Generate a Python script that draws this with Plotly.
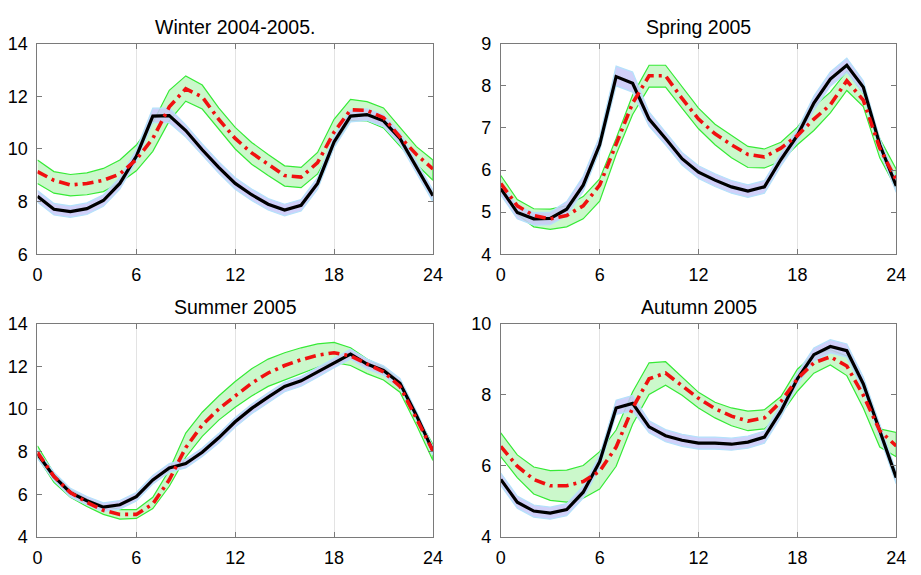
import plotly.graph_objects as go
from plotly.subplots import make_subplots

hours = list(range(25))

titles = ["Winter 2004-2005.", "Spring 2005", "Summer 2005", "Autumn 2005"]

# ---- Winter ----
winter_actual = [8.2, 7.71, 7.62, 7.73, 8.04, 8.69, 9.72, 11.25, 11.27, 10.7, 9.97, 9.3, 8.69, 8.26, 7.9, 7.68, 7.86, 8.69, 10.27, 11.25, 11.31, 11.07, 10.4, 9.3, 8.22]
winter_act_hi = [8.42, 7.93, 7.84, 7.95, 8.26, 8.91, 9.97, 11.55, 11.55, 10.92, 10.19, 9.52, 8.91, 8.48, 8.12, 7.9, 8.08, 8.91, 10.49, 11.47, 11.53, 11.29, 10.62, 9.52, 8.44]
winter_act_lo = [7.98, 7.49, 7.40, 7.51, 7.82, 8.47, 9.53, 11.0, 11.0, 10.45, 9.75, 9.08, 8.47, 8.04, 7.68, 7.46, 7.64, 8.47, 10.05, 11.03, 11.09, 10.85, 10.18, 9.08, 8.0]
winter_fc = [9.14, 8.81, 8.63, 8.69, 8.81, 9.05, 9.6, 10.4, 11.6, 12.29, 11.98, 11.13, 10.4, 9.85, 9.42, 8.99, 8.93, 9.48, 10.64, 11.49, 11.47, 11.19, 10.46, 9.79, 9.24]
winter_fc_hi = [9.58, 9.14, 9.03, 9.09, 9.26, 9.58, 10.15, 11.0, 12.23, 12.78, 12.43, 11.56, 10.82, 10.25, 9.79, 9.36, 9.3, 9.87, 11.13, 11.89, 11.8, 11.56, 10.82, 10.09, 9.58]
winter_fc_lo = [8.69, 8.32, 8.22, 8.26, 8.38, 8.72, 9.17, 9.91, 11.07, 11.82, 11.52, 10.74, 10.0, 9.42, 8.99, 8.59, 8.53, 9.05, 10.15, 11.09, 11.07, 10.8, 10.09, 9.42, 8.81]

# ---- Spring ----
spring_actual = [5.56, 4.99, 4.84, 4.85, 5.07, 5.64, 6.6, 8.22, 8.06, 7.21, 6.75, 6.27, 5.95, 5.76, 5.6, 5.5, 5.6, 6.25, 6.82, 7.59, 8.16, 8.49, 7.97, 6.6, 5.62]
spring_act_hi = [5.71, 5.14, 4.99, 5.0, 5.25, 5.85, 6.8, 8.47, 8.33, 7.38, 6.9, 6.42, 6.1, 5.91, 5.75, 5.65, 5.75, 6.4, 6.97, 7.76, 8.33, 8.66, 8.12, 6.75, 5.77]
spring_act_lo = [5.41, 4.84, 4.69, 4.7, 4.92, 5.49, 6.45, 8.0, 7.85, 7.04, 6.6, 6.12, 5.8, 5.61, 5.45, 5.35, 5.45, 6.1, 6.67, 7.42, 7.99, 8.32, 7.82, 6.45, 5.47]
spring_fc = [5.68, 5.15, 4.92, 4.84, 4.92, 5.15, 5.64, 6.6, 7.59, 8.24, 8.24, 7.7, 7.21, 6.86, 6.6, 6.37, 6.31, 6.52, 6.82, 7.21, 7.55, 8.12, 7.66, 6.52, 5.76]
spring_fc_hi = [5.87, 5.3, 5.08, 5.07, 5.15, 5.37, 5.79, 6.75, 7.78, 8.49, 8.49, 7.97, 7.47, 7.09, 6.82, 6.56, 6.5, 6.66, 7.02, 7.51, 7.85, 8.35, 7.82, 6.75, 6.02]
spring_fc_lo = [5.56, 4.95, 4.65, 4.59, 4.65, 4.84, 5.26, 6.37, 7.32, 7.97, 7.97, 7.47, 6.98, 6.6, 6.29, 6.06, 6.05, 6.21, 6.6, 6.94, 7.36, 7.89, 7.51, 6.29, 5.56]

# ---- Summer ----
summer_actual = [7.89, 6.84, 6.08, 5.7, 5.4, 5.51, 5.89, 6.68, 7.24, 7.44, 7.97, 8.65, 9.4, 10.03, 10.56, 11.06, 11.32, 11.74, 12.19, 12.57, 12.11, 11.81, 11.21, 9.7, 8.04]
summer_act_hi = [8.09, 7.04, 6.28, 5.9, 5.6, 5.71, 6.09, 6.88, 7.44, 7.64, 8.17, 8.85, 9.6, 10.23, 10.76, 11.26, 11.52, 11.94, 12.39, 12.8, 12.34, 12.03, 11.43, 9.9, 8.24]
summer_act_lo = [7.69, 6.64, 5.88, 5.5, 5.2, 5.31, 5.69, 6.48, 7.04, 7.24, 7.77, 8.4, 9.15, 9.78, 10.31, 10.81, 11.07, 11.49, 11.94, 12.35, 11.88, 11.58, 10.99, 9.5, 7.84]
summer_fc = [7.97, 6.84, 6.08, 5.63, 5.25, 5.06, 5.06, 5.55, 6.68, 8.19, 9.25, 10.0, 10.61, 11.21, 11.69, 12.04, 12.31, 12.52, 12.64, 12.49, 12.11, 11.74, 11.06, 9.55, 8.04]
summer_fc_hi = [8.27, 6.99, 6.2, 5.78, 5.48, 5.28, 5.28, 5.86, 7.14, 8.87, 9.85, 10.61, 11.29, 11.89, 12.34, 12.64, 12.87, 13.05, 13.12, 12.87, 12.34, 11.96, 11.29, 9.7, 8.34]
summer_fc_lo = [7.74, 6.56, 5.86, 5.43, 5.06, 4.84, 4.87, 5.33, 6.38, 7.74, 8.72, 9.48, 10.08, 10.61, 11.06, 11.36, 11.66, 11.96, 12.19, 12.04, 11.66, 11.36, 10.79, 9.25, 7.59]

# ---- Autumn ----
autumn_actual = [5.62, 4.98, 4.73, 4.67, 4.77, 5.26, 6.12, 7.63, 7.76, 7.1, 6.85, 6.72, 6.64, 6.64, 6.61, 6.67, 6.81, 7.54, 8.45, 9.13, 9.36, 9.24, 8.31, 6.99, 5.67]
autumn_act_hi = [5.8, 5.15, 4.9, 4.84, 4.94, 5.43, 6.3, 7.85, 7.98, 7.27, 7.02, 6.89, 6.81, 6.81, 6.78, 6.84, 6.98, 7.71, 8.62, 9.32, 9.55, 9.43, 8.5, 7.16, 5.84]
autumn_act_lo = [5.45, 4.81, 4.56, 4.5, 4.6, 5.09, 5.95, 7.45, 7.55, 6.93, 6.68, 6.55, 6.47, 6.47, 6.44, 6.5, 6.64, 7.37, 8.28, 8.95, 9.18, 9.06, 8.13, 6.82, 5.5]
autumn_fc = [6.55, 5.99, 5.62, 5.44, 5.44, 5.56, 5.85, 6.53, 7.63, 8.45, 8.61, 8.27, 7.9, 7.61, 7.4, 7.26, 7.35, 7.81, 8.45, 8.9, 9.07, 8.81, 7.99, 6.99, 6.56]
autumn_fc_hi = [6.93, 6.31, 5.97, 5.87, 5.88, 6.01, 6.4, 7.01, 8.08, 8.9, 8.93, 8.51, 8.07, 7.79, 7.63, 7.54, 7.58, 7.95, 8.72, 9.13, 9.27, 9.09, 8.18, 7.04, 6.94]
autumn_fc_lo = [6.26, 5.67, 5.21, 5.03, 4.98, 5.09, 5.35, 5.99, 7.17, 8.01, 8.27, 7.99, 7.63, 7.35, 7.13, 6.99, 7.04, 7.45, 8.1, 8.61, 8.84, 8.54, 7.63, 6.53, 6.26]

y_ranges = [[6, 14], [4, 9], [4, 14], [4, 10]]
y_dticks = [2, 1, 2, 2]
x_ticks = [0, 6, 12, 18, 24]

panels = [
    (winter_actual, winter_act_lo, winter_act_hi, winter_fc, winter_fc_lo, winter_fc_hi),
    (spring_actual, spring_act_lo, spring_act_hi, spring_fc, spring_fc_lo, spring_fc_hi),
    (summer_actual, summer_act_lo, summer_act_hi, summer_fc, summer_fc_lo, summer_fc_hi),
    (autumn_actual, autumn_act_lo, autumn_act_hi, autumn_fc, autumn_fc_lo, autumn_fc_hi),
]

W, H = 921, 575
x_doms = [[33 / W, 435 / W], [504 / W, 906 / W]]
y_doms = [[1 - 253 / H, 1 - 35 / H], [1 - 546 / H, 1 - 325 / H]]

fig = make_subplots(rows=2, cols=2)

GREEN_EDGE = "#36ea36"
GREEN_FILL = "rgba(185,245,185,0.75)"
BLUE_EDGE = "#b4e2fb"
BLUE_FILL = "rgba(200,200,248,0.85)"
TICK_FONT = dict(family="Arial", size=18, color="black")

for i, (act, alo, ahi, fc, flo, fhi) in enumerate(panels):
    r, c = i // 2 + 1, i % 2 + 1
    fig.add_trace(go.Scatter(x=hours + hours[::-1], y=fhi + flo[::-1], fill="toself",
                             fillcolor=GREEN_FILL, line=dict(color=GREEN_EDGE, width=1.2),
                             mode="lines", hoverinfo="skip", showlegend=False), row=r, col=c)
    fig.add_trace(go.Scatter(x=hours + hours[::-1], y=ahi + alo[::-1], fill="toself",
                             fillcolor=BLUE_FILL, line=dict(color=BLUE_EDGE, width=1.2),
                             mode="lines", hoverinfo="skip", showlegend=False), row=r, col=c)
    fig.add_trace(go.Scatter(x=hours, y=act, mode="lines",
                             line=dict(color="black", width=3.2), showlegend=False), row=r, col=c)
    fig.add_trace(go.Scatter(x=hours, y=fc, mode="lines",
                             line=dict(color="#f01010", width=3.6, dash="11px,5px,3px,5px"),
                             showlegend=False), row=r, col=c)

    xa = "xaxis" if i == 0 else f"xaxis{i+1}"
    ya = "yaxis" if i == 0 else f"yaxis{i+1}"
    fig.layout[xa].update(domain=x_doms[c - 1], range=[0, 24], tickvals=x_ticks,
                          showgrid=True, gridcolor="#e3e3e3", gridwidth=1,
                          showline=True, linecolor="#7a7a7a", linewidth=1, mirror="ticks",
                          ticks="inside", ticklen=5, tickcolor="#7a7a7a", zeroline=False,
                          ticklabelstandoff=4, tickfont=TICK_FONT)
    fig.layout[ya].update(domain=y_doms[r - 1], range=y_ranges[i], dtick=y_dticks[i],
                          showgrid=False, showline=True, linecolor="#7a7a7a", linewidth=1,
                          mirror="ticks", ticks="inside", ticklen=5, tickcolor="#7a7a7a",
                          zeroline=False, ticklabelstandoff=5, tickfont=TICK_FONT)
    xc = (x_doms[c - 1][0] + x_doms[c - 1][1]) / 2
    fig.add_annotation(text=titles[i], x=xc, y=y_doms[r - 1][1], xref="paper", yref="paper",
                       xanchor="center", yanchor="middle", yshift=17, showarrow=False,
                       font=dict(family="Arial", size=19.5, color="black"))

fig.update_layout(width=W, height=H, margin=dict(l=0, r=0, t=0, b=0),
                  plot_bgcolor="white", paper_bgcolor="white")
fig.write_html("out.html")
